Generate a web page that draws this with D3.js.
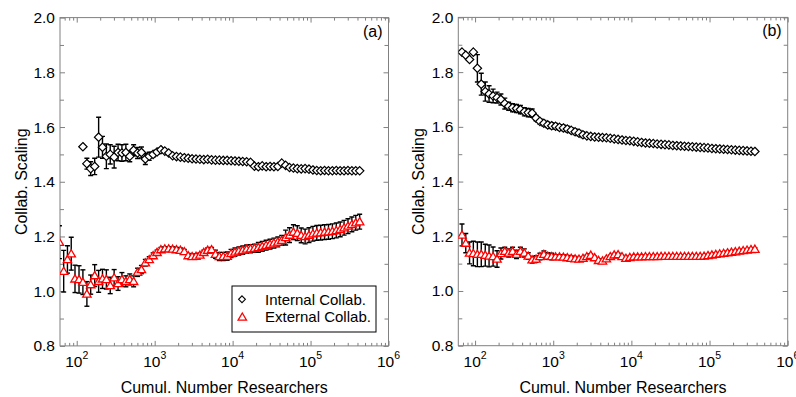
<!DOCTYPE html>
<html><head><meta charset="utf-8">
<script src="https://cdn.jsdelivr.net/npm/d3@7/dist/d3.min.js"></script>
<style>
body{margin:0;background:#fff}
svg{display:block}
text{font-family:"Liberation Sans",Arial,Helvetica,sans-serif;fill:#000}
</style>
</head><body>
<svg id="chart" width="796" height="397"></svg>
<script>
// Shared x grid: cumulative number of researchers
const researchers = [60,68,76,85,95,107,120,135,151,170,191,214,240,269,302,339,380,427,479,537,
 603,676,759,851,955,1072,1202,1349,1514,1698,1905,2138,2399,2692,3020,3388,3802,4266,4786,5370,
 6026,6761,7586,8511,9550,10715,12023,13490,15136,16982,19055,21380,23988,26915,30200,33884,38019,42658,47863,53703,
 60256,67608,75858,85114,95499,107152,120226,134896,151356,169824,190546,213796,239883,269153,301995,338844,380189,426580];

// Panel (a)
const internalA = [null,null,null,null,null,null,
 1.528,1.466,1.448,1.456,1.563,1.526,1.493,1.500,1.490,1.507,
 1.505,1.507,1.493,1.515,1.505,1.507,1.483,1.493,1.500,1.509,
 1.517,1.512,1.505,1.495,1.492,1.490,1.488,1.486,1.484,1.483,
 1.482,1.481,1.482,1.480,1.479,1.479,1.478,1.478,1.477,1.476,
 1.475,1.474,1.473,1.471,1.457,1.455,1.458,1.455,1.456,1.455,
 1.456,1.468,1.460,1.452,1.450,1.448,1.447,1.448,1.446,1.443,
 1.441,1.440,1.441,1.440,1.440,1.441,1.440,1.440,1.441,1.440,
 1.440,1.440];
const internalAErr = [null,null,null,null,null,null,
 0,0.02,0.025,0.03,0.073,0.04,0.045,0.035,0.04,0.03,
 0.03,0.03,0.02,0.02,0.02,0.02,0.02,0.015,0.01,0.008,
 0.006,0.006,0.006,0.006,0.006,0.006,0.006,0.006,0.006,0.006,
 0.004,0.004,0.004,0.004,0.004,0.004,0.004,0.004,0.004,0.004,
 0.004,0.004,0.004,0.004,0.004,0.004,0.004,0.004,0.004,0.004,
 0.004,0.004,0.004,0.004,0.004,0.004,0.004,0.004,0.004,0.004,
 0.004,0.004,0.004,0.004,0.004,0.004,0.004,0.004,0.004,0.004,
 0.004,0.004];
const externalA = [1.179,1.073,1.116,1.137,1.045,1.043,1.033,0.990,1.024,1.057,
 1.036,1.045,1.043,1.021,1.049,1.028,1.043,1.036,1.043,1.036,
 1.069,1.079,1.104,1.116,1.130,1.142,1.152,1.155,1.155,1.154,
 1.152,1.150,1.145,1.130,1.127,1.128,1.132,1.142,1.150,1.152,
 1.135,1.127,1.127,1.128,1.138,1.143,1.147,1.150,1.154,1.155,
 1.157,1.160,1.164,1.168,1.172,1.176,1.180,1.186,1.196,1.205,
 1.216,1.212,1.204,1.200,1.205,1.210,1.213,1.214,1.216,1.217,
 1.219,1.222,1.226,1.232,1.238,1.244,1.250,1.254];
const externalAErr = [0.06,0.076,0.05,0.06,0.05,0.05,0.045,0.045,0.035,0.04,
 0.04,0.035,0.035,0.03,0.03,0.025,0.025,0.02,0.02,0.02,
 0.015,0.015,0.012,0.01,0.01,0.008,0.008,0.008,0.008,0.008,
 0.008,0.008,0.008,0.008,0.008,0.008,0.008,0.008,0.008,0.008,
 0.015,0.015,0.015,0.015,0.015,0.015,0.015,0.015,0.015,0.015,
 0.015,0.018,0.018,0.018,0.018,0.018,0.018,0.018,0.027,0.027,
 0.027,0.027,0.027,0.027,0.027,0.027,0.027,0.027,0.027,0.027,
 0.027,0.027,0.027,0.027,0.027,0.027,0.027,0.027];

// Panel (b)
const internalB = [null,1.873,1.862,1.846,1.873,1.814,1.756,1.729,1.720,1.713,
 1.707,1.700,1.685,1.675,1.670,1.667,1.663,1.655,1.652,1.650,
 1.632,1.620,1.613,1.607,1.604,1.602,1.598,1.596,1.592,1.587,
 1.582,1.577,1.571,1.567,1.565,1.563,1.562,1.561,1.560,1.558,
 1.556,1.554,1.552,1.550,1.549,1.547,1.545,1.543,1.541,1.540,
 1.539,1.537,1.536,1.535,1.534,1.532,1.531,1.530,1.529,1.528,
 1.527,1.526,1.525,1.524,1.523,1.521,1.520,1.519,1.518,1.517,
 1.516,1.515,1.514,1.513,1.512,1.511,1.510,null];
const internalBErr = [null,0,0,0,0,0.05,0.04,0.035,0.03,0.025,
 0.02,0.02,0.02,0.015,0.015,0.015,0.015,0.015,0.015,0.015,
 0.01,0.01,0.01,0.01,0.01,0.01,0.01,0.01,0.01,0.01,
 0.01,0.01,0.01,0.004,0.004,0.004,0.004,0.004,0.004,0.004,
 0.004,0.004,0.004,0.004,0.004,0.004,0.004,0.004,0.004,0.004,
 0.004,0.004,0.004,0.004,0.004,0.004,0.004,0.004,0.004,0.004,
 0.004,0.004,0.004,0.004,0.004,0.004,0.004,0.004,0.004,0.004,
 0.004,0.004,0.004,0.004,0.004,0.004,0.004,null];
const externalB = [null,1.205,1.175,1.139,1.137,1.134,1.134,1.131,1.128,1.126,
 1.117,1.137,1.145,1.139,1.145,1.134,1.145,1.139,1.128,1.114,
 1.117,1.126,1.134,1.128,1.126,1.125,1.125,1.124,1.122,1.120,
 1.118,1.117,1.120,1.126,1.131,1.122,1.112,1.110,1.118,1.126,
 1.132,1.133,1.126,1.120,1.123,1.125,1.125,1.125,1.126,1.126,
 1.126,1.126,1.127,1.127,1.127,1.127,1.127,1.127,1.127,1.127,
 1.127,1.127,1.127,1.128,1.130,1.132,1.134,1.136,1.138,1.140,
 1.142,1.144,1.146,1.148,1.150,1.152,1.153,null];
const externalBErr = [null,0.04,0.035,0.04,0.045,0.045,0.045,0.04,0.04,0.035,
 0.03,0.02,0.015,0.015,0.015,0.015,0.015,0.015,0.012,0.012,
 0.012,0.012,0.012,0.012,0.012,0.008,0.008,0.008,0.008,0.008,
 0.008,0.005,0.005,0.005,0.005,0.005,0.005,0.005,0.005,0.005,
 0.005,0.005,0.005,0.005,0.005,0.005,0.005,0.005,0.005,0.005,
 0.005,0.005,0.005,0.005,0.005,0.005,0.005,0.005,0.005,0.005,
 0.005,0.005,0.005,0.005,0.005,0.005,0.005,0.005,0.005,0.005,
 0.005,0.005,0.005,0.005,0.005,0.005,0.005,null];

const yTickValues = [0.8,1.0,1.2,1.4,1.6,1.8,2.0];
const yMinorValues = [0.9,1.1,1.3,1.5,1.7,1.9];
const xDecades = [2,3,4,5,6];
const seriesNames = ["Internal Collab.","External Collab."];
const panelTags = ["(a)","(b)"];
const xTitle = "Cumul. Number Researchers";
const yTitle = "Collab. Scaling";

const svg = d3.select("#chart");
const frameColor = "#808080";
const diamondPath = r => `M0,${-r}L${r},0L0,${r}L${-r},0Z`;
const trianglePath = s => `M0,${-s*0.95}L${s},${s*0.75}L${-s},${s*0.75}Z`;

const panels = [
  {left:60, right:388.5, top:17.6, bottom:345.9, tag:panelTags[0], ylabX:21, legend:true,
   series:[{v:internalA,e:internalAErr,kind:"d"},{v:externalA,e:externalAErr,kind:"t"}]},
  {left:458.3, right:787.7, top:17.4, bottom:345.7, tag:panelTags[1], ylabX:418, legend:false,
   series:[{v:internalB,e:internalBErr,kind:"d"},{v:externalB,e:externalBErr,kind:"t"}]}
];

panels.forEach((p, pi) => {
  const x = d3.scaleLog().domain([61, 1e6]).range([p.left, p.right]);
  const y = d3.scaleLinear().domain([0.8, 2.0]).range([p.bottom, p.top]);
  const g = svg.append("g");

  const minor = [];
  for (let d = 1; d <= 5; d++) for (let k = 2; k <= 9; k++) { const v = k * Math.pow(10, d); if (v >= 61 && v <= 1e6) minor.push(v); }
  const major = xDecades.map(d => Math.pow(10, d));

  const addAxis = (axis, tr) => {
    const a = g.append("g").attr("transform", tr).call(axis);
    a.select(".domain").remove();
    a.selectAll("line").attr("stroke", frameColor).attr("stroke-width", 1);
    a.selectAll("text").remove();
  };
  addAxis(d3.axisBottom(x).tickValues(major).tickSize(-5).tickFormat(""), `translate(0,${p.bottom})`);
  addAxis(d3.axisBottom(x).tickValues(minor).tickSize(-3).tickFormat(""), `translate(0,${p.bottom})`);
  addAxis(d3.axisTop(x).tickValues(major).tickSize(-5).tickFormat(""), `translate(0,${p.top})`);
  addAxis(d3.axisTop(x).tickValues(minor).tickSize(-3).tickFormat(""), `translate(0,${p.top})`);
  addAxis(d3.axisLeft(y).tickValues(yTickValues).tickSize(-5).tickFormat(""), `translate(${p.left},0)`);
  addAxis(d3.axisLeft(y).tickValues(yMinorValues).tickSize(-4).tickFormat(""), `translate(${p.left},0)`);
  addAxis(d3.axisRight(y).tickValues(yTickValues).tickSize(-5).tickFormat(""), `translate(${p.right},0)`);
  addAxis(d3.axisRight(y).tickValues(yMinorValues).tickSize(-4).tickFormat(""), `translate(${p.right},0)`);

  g.append("rect").attr("x", p.left).attr("y", p.top)
    .attr("width", p.right - p.left).attr("height", p.bottom - p.top)
    .attr("fill", "none").attr("stroke", frameColor).attr("stroke-width", 1);

  // y tick labels
  g.selectAll(".yl").data(yTickValues).enter().append("text")
    .attr("x", p.left - 5).attr("y", d => y(d) + 5.5)
    .attr("text-anchor", "end").attr("font-size", "15.5px")
    .text(d => d.toFixed(1));

  // x tick labels with superscripts
  xDecades.forEach(d => {
    const t = g.append("text").attr("x", x(Math.pow(10, d))).attr("y", 366.5)
      .attr("text-anchor", "middle").attr("font-size", "15.5px");
    t.append("tspan").text("10");
    t.append("tspan").attr("font-size", "10.5px").attr("dy", -8).text(String(d));
  });

  // titles
  g.append("text").attr("x", (p.left + p.right) / 2).attr("y", 392.5)
    .attr("text-anchor", "middle").attr("font-size", "16px").text(xTitle);
  g.append("text").attr("transform", `translate(${p.ylabX},${(p.top + p.bottom) / 2}) rotate(-90)`)
    .attr("text-anchor", "middle").attr("dominant-baseline", "central").attr("font-size", "16px").text(yTitle);
  g.append("text").attr("x", p.right - 6).attr("y", p.top + 19)
    .attr("text-anchor", "end").attr("font-size", "16px").text(p.tag);

  // data
  const clipId = "clip" + pi;
  svg.append("clipPath").attr("id", clipId).append("rect")
    .attr("x", p.left).attr("y", p.top).attr("width", p.right - p.left).attr("height", p.bottom - p.top);
  const dg = g.append("g").attr("clip-path", `url(#${clipId})`);

  p.series.forEach(s => {
    const pts = researchers.map((n, i) => ({n, v: s.v[i], e: s.e[i]})).filter(d => d.v != null);
    const eb = dg.append("g").attr("stroke", "#000").attr("stroke-width", 1.4);
    pts.filter(d => d.e > 0).forEach(d => {
      const cx = x(d.n), y1 = y(d.v - d.e), y2 = y(d.v + d.e);
      eb.append("line").attr("x1", cx).attr("x2", cx).attr("y1", y1).attr("y2", y2);
      eb.append("line").attr("x1", cx - 2.5).attr("x2", cx + 2.5).attr("y1", y1).attr("y2", y1);
      eb.append("line").attr("x1", cx - 2.5).attr("x2", cx + 2.5).attr("y1", y2).attr("y2", y2);
    });
    dg.append("g").selectAll("path").data(pts).enter().append("path")
      .attr("transform", d => `translate(${x(d.n)},${y(d.v)})`)
      .attr("d", s.kind === "d" ? diamondPath(4.2) : trianglePath(4.2))
      .attr("fill", "#fff")
      .attr("stroke", s.kind === "d" ? "#000" : "#ff0000")
      .attr("stroke-width", s.kind === "d" ? 1.2 : 1.3);
  });

  if (p.legend) {
    const lg = g.append("g");
    lg.append("rect").attr("x", 232).attr("y", 286).attr("width", 144).attr("height", 46)
      .attr("fill", "#fff").attr("stroke", "#000").attr("stroke-width", 1);
    lg.append("path").attr("transform", "translate(242,299.3)").attr("d", diamondPath(3.4))
      .attr("fill", "#fff").attr("stroke", "#000").attr("stroke-width", 1.1);
    lg.append("path").attr("transform", "translate(242.3,317)").attr("d", trianglePath(4.2))
      .attr("fill", "#fff").attr("stroke", "#ff0000").attr("stroke-width", 1.3);
    lg.append("text").attr("x", 265).attr("y", 304.5).attr("font-size", "15px").text(seriesNames[0]);
    lg.append("text").attr("x", 265).attr("y", 322).attr("font-size", "15px").text(seriesNames[1]);
  }
});
</script>
</body></html>
